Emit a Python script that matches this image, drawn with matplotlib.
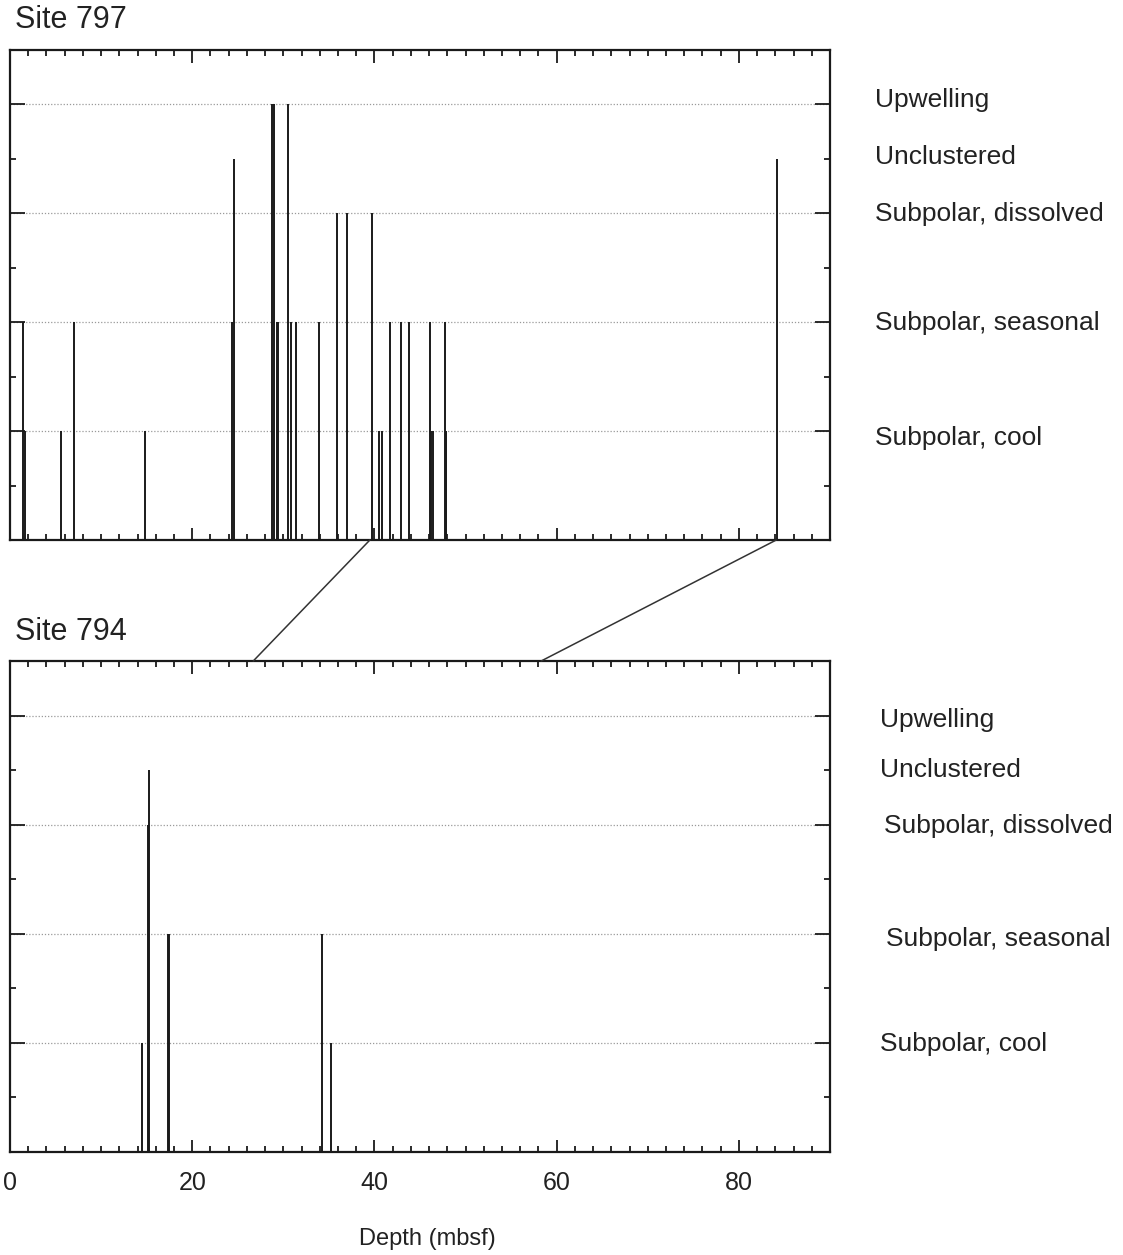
import numpy as np
import matplotlib
matplotlib.use('Agg')
from matplotlib import pyplot as plt
from matplotlib.patches import ConnectionPatch
from matplotlib.ticker import MultipleLocator, FixedLocator

plt.rcParams['font.family'] = ['Liberation Sans', 'DejaVu Sans']

# 聚类类别（y 轴上的等级）
categories = ['Subpolar, cool', 'Subpolar, seasonal', 'Subpolar, dissolved',
              'Unclustered', 'Upwelling']
cat_levels = [2, 4, 6, 7, 8]

# Site 797: 深度 (mbsf) 与所属类别等级
depth_797 = [1.39, 1.60, 5.60, 7.02, 14.82, 24.33, 24.62, 28.72, 28.98, 29.27,
             29.40, 30.46, 30.81, 31.37, 33.86, 35.84, 36.99, 39.73, 40.50,
             40.86, 41.74, 42.91, 43.83, 46.15, 46.26, 46.43, 47.69, 47.80,
             47.90, 84.22]
level_797 = [4, 2, 2, 4, 2, 4, 7, 8, 8, 4,
             4, 8, 4, 4, 4, 6, 6, 6, 2,
             2, 4, 4, 4, 4, 2, 2, 4, 2,
             2, 7]

# Site 794
depth_794 = [14.52, 15.18, 15.26, 17.34, 17.48, 34.21, 35.20]
level_794 = [2, 6, 7, 4, 4, 4, 2]

# 两站之间的对比连线 (797 深度 -> 794 深度)
tie_797 = [39.5, 84.1]
tie_794 = [26.7, 58.3]

xticks = [0, 20, 40, 60, 80]

fig = plt.figure(figsize=(11.23, 12.55), dpi=100)
ax1 = fig.add_axes([10/1123, 1 - 540/1255, 820/1123, 490/1255])
ax2 = fig.add_axes([10/1123, 1 - 1152/1255, 820/1123, 491/1255])


def setup(ax, depths, levels, label_dx, label_dy):
    ax.vlines(depths, 0, levels, color='#1a1a1a', lw=1.4)
    ax.set_xlim(0, 90)
    ax.set_ylim(0, 9)
    for lv in [2, 4, 6, 8]:
        ax.axhline(lv, color='#9a9a9a', lw=0.9, ls=(0, (1, 1.5)), zorder=0)
    ax.xaxis.set_major_locator(FixedLocator(xticks))
    ax.xaxis.set_minor_locator(MultipleLocator(2))
    ax.yaxis.set_major_locator(FixedLocator([2, 4, 6, 8]))
    ax.yaxis.set_minor_locator(MultipleLocator(1))
    ax.tick_params(which='both', direction='in', top=True, right=True,
                   width=1.3, color='#1a1a1a')
    ax.tick_params(axis='x', which='major', length=9)
    ax.tick_params(axis='x', which='minor', length=4.5)
    ax.tick_params(axis='y', which='major', length=11)
    ax.tick_params(axis='y', which='minor', length=4.5)
    ax.set_yticklabels([])
    for s in ax.spines.values():
        s.set_linewidth(1.6)
        s.set_color('#1a1a1a')
    for name, lv, dx, dy in zip(categories, cat_levels, label_dx, label_dy):
        ax.text(dx, lv + dy, name, transform=ax.get_yaxis_transform(),
                fontsize=19, color='#222222', va='center', ha='left')


setup(ax1, depth_797, level_797,
      [1.0549] * 5, [-0.12, -0.02, -0.02, 0.03, 0.08])
setup(ax2, depth_794, level_794,
      [1.0610, 1.0683, 1.0659, 1.0610, 1.0610], [-0.02, -0.09, -0.02, 0.0, -0.09])

ax1.set_xticklabels([])
ax2.set_xticklabels([str(t) for t in xticks], fontsize=18, color='#222222')
ax2.tick_params(axis='x', which='major', pad=14)
ax2.set_xlabel('Depth (mbsf)', fontsize=17, color='#222222')
ax2.xaxis.set_label_coords(417/820, -0.155)

fig.text(15/1123, 1 - 20/1255, 'Site 797', fontsize=22, va='center', ha='left',
         color='#222222')
fig.text(15/1123, 1 - 632/1255, 'Site 794', fontsize=22, va='center', ha='left',
         color='#222222')

for a, b in zip(tie_797, tie_794):
    con = ConnectionPatch(xyA=(a, 0), coordsA=ax1.transData,
                          xyB=(b, 9), coordsB=ax2.transData,
                          color='#333333', lw=1.1)
    fig.add_artist(con)

plt.savefig('out.png', dpi=100)
